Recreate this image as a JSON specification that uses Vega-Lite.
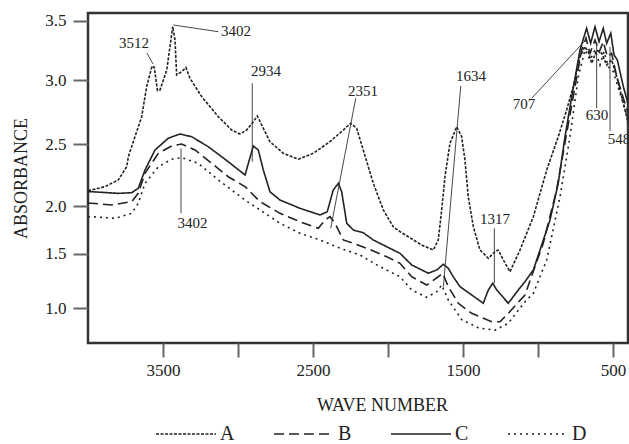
{
  "$schema": "https://vega.github.io/schema/vega-lite/v6.json",
  "width": 540,
  "height": 330,
  "autosize": {"type": "none"},
  "padding": {"left": 88, "top": 13, "right": 1, "bottom": 101},
  "background": "white",
  "datasets": {
    "curves": [
      {"s": "A", "wn": 4000, "a": 2.125}, {"s": "A", "wn": 3975, "a": 2.129}, {"s": "A", "wn": 3887, "a": 2.156}, {"s": "A", "wn": 3798, "a": 2.21}, {"s": "A", "wn": 3742, "a": 2.317}, {"s": "A", "wn": 3731, "a": 2.398}, {"s": "A", "wn": 3687, "a": 2.557}, {"s": "A", "wn": 3642, "a": 2.713}, {"s": "A", "wn": 3609, "a": 2.948}, {"s": "A", "wn": 3573, "a": 3.118}, {"s": "A", "wn": 3558, "a": 3.107}, {"s": "A", "wn": 3537, "a": 2.918}, {"s": "A", "wn": 3520, "a": 2.922}, {"s": "A", "wn": 3475, "a": 3.084}, {"s": "A", "wn": 3435, "a": 3.451}, {"s": "A", "wn": 3420, "a": 3.337}, {"s": "A", "wn": 3409, "a": 3.042}, {"s": "A", "wn": 3375, "a": 3.07}, {"s": "A", "wn": 3347, "a": 3.105}, {"s": "A", "wn": 3320, "a": 3.014}, {"s": "A", "wn": 3242, "a": 2.87}, {"s": "A", "wn": 3131, "a": 2.713}, {"s": "A", "wn": 3042, "a": 2.609}, {"s": "A", "wn": 2987, "a": 2.578}, {"s": "A", "wn": 2942, "a": 2.609}, {"s": "A", "wn": 2898, "a": 2.674}, {"s": "A", "wn": 2871, "a": 2.719}, {"s": "A", "wn": 2842, "a": 2.648}, {"s": "A", "wn": 2787, "a": 2.518}, {"s": "A", "wn": 2698, "a": 2.425}, {"s": "A", "wn": 2598, "a": 2.377}, {"s": "A", "wn": 2498, "a": 2.425}, {"s": "A", "wn": 2387, "a": 2.518}, {"s": "A", "wn": 2298, "a": 2.609}, {"s": "A", "wn": 2249, "a": 2.662}, {"s": "A", "wn": 2209, "a": 2.623}, {"s": "A", "wn": 2165, "a": 2.452}, {"s": "A", "wn": 2098, "a": 2.183}, {"s": "A", "wn": 2031, "a": 1.958}, {"s": "A", "wn": 1965, "a": 1.783}, {"s": "A", "wn": 1920, "a": 1.731}, {"s": "A", "wn": 1865, "a": 1.678}, {"s": "A", "wn": 1776, "a": 1.591}, {"s": "A", "wn": 1698, "a": 1.539}, {"s": "A", "wn": 1665, "a": 1.644}, {"s": "A", "wn": 1642, "a": 1.958}, {"s": "A", "wn": 1620, "a": 2.236}, {"s": "A", "wn": 1587, "a": 2.505}, {"s": "A", "wn": 1542, "a": 2.635}, {"s": "A", "wn": 1509, "a": 2.557}, {"s": "A", "wn": 1487, "a": 2.371}, {"s": "A", "wn": 1465, "a": 2.075}, {"s": "A", "wn": 1431, "a": 1.783}, {"s": "A", "wn": 1387, "a": 1.539}, {"s": "A", "wn": 1331, "a": 1.458}, {"s": "A", "wn": 1287, "a": 1.521}, {"s": "A", "wn": 1265, "a": 1.539}, {"s": "A", "wn": 1231, "a": 1.442}, {"s": "A", "wn": 1187, "a": 1.335}, {"s": "A", "wn": 1120, "a": 1.539}, {"s": "A", "wn": 1031, "a": 1.888}, {"s": "A", "wn": 942, "a": 2.29}, {"s": "A", "wn": 865, "a": 2.557}, {"s": "A", "wn": 809, "a": 2.766}, {"s": "A", "wn": 765, "a": 2.948}, {"s": "A", "wn": 720, "a": 3.196}, {"s": "A", "wn": 687, "a": 3.281}, {"s": "A", "wn": 665, "a": 3.239}, {"s": "A", "wn": 642, "a": 3.141}, {"s": "A", "wn": 609, "a": 3.253}, {"s": "A", "wn": 575, "a": 3.225}, {"s": "A", "wn": 542, "a": 3.126}, {"s": "A", "wn": 509, "a": 3.169}, {"s": "A", "wn": 475, "a": 3.028}, {"s": "A", "wn": 442, "a": 2.87}, {"s": "A", "wn": 398, "a": 2.662},

      {"s": "B", "wn": 4000, "a": 2.022}, {"s": "B", "wn": 3975, "a": 2.022}, {"s": "B", "wn": 3842, "a": 2.008}, {"s": "B", "wn": 3709, "a": 2.035}, {"s": "B", "wn": 3665, "a": 2.102}, {"s": "B", "wn": 3620, "a": 2.264}, {"s": "B", "wn": 3531, "a": 2.425}, {"s": "B", "wn": 3442, "a": 2.484}, {"s": "B", "wn": 3375, "a": 2.5}, {"s": "B", "wn": 3287, "a": 2.452}, {"s": "B", "wn": 3175, "a": 2.344}, {"s": "B", "wn": 3065, "a": 2.236}, {"s": "B", "wn": 2953, "a": 2.156}, {"s": "B", "wn": 2853, "a": 2.035}, {"s": "B", "wn": 2720, "a": 1.923}, {"s": "B", "wn": 2587, "a": 1.835}, {"s": "B", "wn": 2465, "a": 1.766}, {"s": "B", "wn": 2420, "a": 1.853}, {"s": "B", "wn": 2387, "a": 1.888}, {"s": "B", "wn": 2353, "a": 1.819}, {"s": "B", "wn": 2298, "a": 1.644}, {"s": "B", "wn": 2231, "a": 1.609}, {"s": "B", "wn": 2142, "a": 1.557}, {"s": "B", "wn": 2009, "a": 1.473}, {"s": "B", "wn": 1920, "a": 1.412}, {"s": "B", "wn": 1842, "a": 1.289}, {"s": "B", "wn": 1742, "a": 1.213}, {"s": "B", "wn": 1665, "a": 1.289}, {"s": "B", "wn": 1635, "a": 1.321}, {"s": "B", "wn": 1598, "a": 1.198}, {"s": "B", "wn": 1531, "a": 1.046}, {"s": "B", "wn": 1442, "a": 0.954}, {"s": "B", "wn": 1309, "a": 0.877}, {"s": "B", "wn": 1253, "a": 0.877}, {"s": "B", "wn": 1198, "a": 0.954}, {"s": "B", "wn": 1087, "a": 1.122}, {"s": "B", "wn": 965, "a": 1.609}, {"s": "B", "wn": 876, "a": 2.129}, {"s": "B", "wn": 809, "a": 2.584}, {"s": "B", "wn": 753, "a": 2.948}, {"s": "B", "wn": 709, "a": 3.253}, {"s": "B", "wn": 680, "a": 3.352}, {"s": "B", "wn": 653, "a": 3.225}, {"s": "B", "wn": 620, "a": 3.337}, {"s": "B", "wn": 591, "a": 3.239}, {"s": "B", "wn": 565, "a": 3.323}, {"s": "B", "wn": 538, "a": 3.196}, {"s": "B", "wn": 509, "a": 3.225}, {"s": "B", "wn": 475, "a": 3.028}, {"s": "B", "wn": 431, "a": 2.857}, {"s": "B", "wn": 398, "a": 2.74},

      {"s": "C", "wn": 4000, "a": 2.115}, {"s": "C", "wn": 3975, "a": 2.115}, {"s": "C", "wn": 3798, "a": 2.102}, {"s": "C", "wn": 3709, "a": 2.107}, {"s": "C", "wn": 3665, "a": 2.143}, {"s": "C", "wn": 3620, "a": 2.29}, {"s": "C", "wn": 3553, "a": 2.452}, {"s": "C", "wn": 3465, "a": 2.545}, {"s": "C", "wn": 3387, "a": 2.578}, {"s": "C", "wn": 3309, "a": 2.557}, {"s": "C", "wn": 3198, "a": 2.478}, {"s": "C", "wn": 3065, "a": 2.357}, {"s": "C", "wn": 2953, "a": 2.25}, {"s": "C", "wn": 2931, "a": 2.344}, {"s": "C", "wn": 2898, "a": 2.484}, {"s": "C", "wn": 2865, "a": 2.452}, {"s": "C", "wn": 2831, "a": 2.29}, {"s": "C", "wn": 2787, "a": 2.115}, {"s": "C", "wn": 2720, "a": 2.048}, {"s": "C", "wn": 2587, "a": 1.976}, {"s": "C", "wn": 2453, "a": 1.906}, {"s": "C", "wn": 2405, "a": 1.94}, {"s": "C", "wn": 2365, "a": 2.129}, {"s": "C", "wn": 2331, "a": 2.183}, {"s": "C", "wn": 2309, "a": 2.115}, {"s": "C", "wn": 2275, "a": 1.819}, {"s": "C", "wn": 2231, "a": 1.748}, {"s": "C", "wn": 2165, "a": 1.72}, {"s": "C", "wn": 2098, "a": 1.644}, {"s": "C", "wn": 2009, "a": 1.573}, {"s": "C", "wn": 1920, "a": 1.504}, {"s": "C", "wn": 1842, "a": 1.397}, {"s": "C", "wn": 1731, "a": 1.321}, {"s": "C", "wn": 1675, "a": 1.351}, {"s": "C", "wn": 1631, "a": 1.403}, {"s": "C", "wn": 1598, "a": 1.366}, {"s": "C", "wn": 1565, "a": 1.289}, {"s": "C", "wn": 1520, "a": 1.198}, {"s": "C", "wn": 1442, "a": 1.122}, {"s": "C", "wn": 1365, "a": 1.046}, {"s": "C", "wn": 1331, "a": 1.168}, {"s": "C", "wn": 1302, "a": 1.229}, {"s": "C", "wn": 1275, "a": 1.168}, {"s": "C", "wn": 1198, "a": 1.046}, {"s": "C", "wn": 1131, "a": 1.168}, {"s": "C", "wn": 1087, "a": 1.244}, {"s": "C", "wn": 1031, "a": 1.351}, {"s": "C", "wn": 920, "a": 1.853}, {"s": "C", "wn": 865, "a": 2.183}, {"s": "C", "wn": 820, "a": 2.557}, {"s": "C", "wn": 775, "a": 2.87}, {"s": "C", "wn": 720, "a": 3.253}, {"s": "C", "wn": 676, "a": 3.436}, {"s": "C", "wn": 649, "a": 3.309}, {"s": "C", "wn": 620, "a": 3.449}, {"s": "C", "wn": 593, "a": 3.323}, {"s": "C", "wn": 565, "a": 3.436}, {"s": "C", "wn": 542, "a": 3.309}, {"s": "C", "wn": 515, "a": 3.394}, {"s": "C", "wn": 493, "a": 3.211}, {"s": "C", "wn": 471, "a": 3.169}, {"s": "C", "wn": 431, "a": 2.948}, {"s": "C", "wn": 398, "a": 2.807},

      {"s": "D", "wn": 4000, "a": 1.888}, {"s": "D", "wn": 3975, "a": 1.888}, {"s": "D", "wn": 3820, "a": 1.871}, {"s": "D", "wn": 3709, "a": 1.923}, {"s": "D", "wn": 3665, "a": 2.022}, {"s": "D", "wn": 3620, "a": 2.183}, {"s": "D", "wn": 3531, "a": 2.317}, {"s": "D", "wn": 3442, "a": 2.377}, {"s": "D", "wn": 3375, "a": 2.39}, {"s": "D", "wn": 3265, "a": 2.344}, {"s": "D", "wn": 3131, "a": 2.21}, {"s": "D", "wn": 2953, "a": 2.048}, {"s": "D", "wn": 2853, "a": 1.958}, {"s": "D", "wn": 2720, "a": 1.819}, {"s": "D", "wn": 2587, "a": 1.714}, {"s": "D", "wn": 2453, "a": 1.644}, {"s": "D", "wn": 2320, "a": 1.557}, {"s": "D", "wn": 2187, "a": 1.488}, {"s": "D", "wn": 2053, "a": 1.381}, {"s": "D", "wn": 1920, "a": 1.289}, {"s": "D", "wn": 1842, "a": 1.168}, {"s": "D", "wn": 1742, "a": 1.101}, {"s": "D", "wn": 1675, "a": 1.152}, {"s": "D", "wn": 1642, "a": 1.213}, {"s": "D", "wn": 1598, "a": 1.076}, {"s": "D", "wn": 1509, "a": 0.897}, {"s": "D", "wn": 1398, "a": 0.821}, {"s": "D", "wn": 1287, "a": 0.799}, {"s": "D", "wn": 1198, "a": 0.863}, {"s": "D", "wn": 1087, "a": 1.06}, {"s": "D", "wn": 1031, "a": 1.137}, {"s": "D", "wn": 942, "a": 1.442}, {"s": "D", "wn": 853, "a": 2.075}, {"s": "D", "wn": 787, "a": 2.557}, {"s": "D", "wn": 731, "a": 3.028}, {"s": "D", "wn": 687, "a": 3.253}, {"s": "D", "wn": 653, "a": 3.169}, {"s": "D", "wn": 620, "a": 3.253}, {"s": "D", "wn": 587, "a": 3.126}, {"s": "D", "wn": 560, "a": 3.239}, {"s": "D", "wn": 531, "a": 3.112}, {"s": "D", "wn": 498, "a": 3.07}, {"s": "D", "wn": 453, "a": 2.896}, {"s": "D", "wn": 398, "a": 2.688}
    ],
    "notes": [
      {"label": "3512", "tx": 3693, "ty": 3.312, "x1": 3607, "y1": 3.228, "x2": 3567, "y2": 3.135},
      {"label": "3402", "tx": 3013, "ty": 3.413, "x1": 3431, "y1": 3.464, "x2": 3131, "y2": 3.407},
      {"label": "2934", "tx": 2813, "ty": 3.076, "x1": 2905, "y1": 2.974, "x2": 2905, "y2": 2.357},
      {"label": "2351", "tx": 2167, "ty": 2.914, "x1": 2215, "y1": 2.857, "x2": 2382, "y2": 1.766},
      {"label": "1634", "tx": 1447, "ty": 3.034, "x1": 1515, "y1": 2.953, "x2": 1631, "y2": 1.198},
      {"label": "1317", "tx": 1287, "ty": 1.864, "x1": 1291, "y1": 1.766, "x2": 1291, "y2": 1.229},
      {"label": "707", "tx": 1093, "ty": 2.813, "x1": 1042, "y1": 2.857, "x2": 693, "y2": 3.323},
      {"label": "630", "tx": 607, "ty": 2.727, "x1": 609, "y1": 3.323, "x2": 609, "y2": 2.779},
      {"label": "548", "tx": 460, "ty": 2.54, "x1": 520, "y1": 3.278, "x2": 520, "y2": 2.6},
      {"label": "3402", "tx": 3303, "ty": 1.827, "x1": 3380, "y1": 2.465, "x2": 3380, "y2": 1.923}
    ]
  },
  "layer": [
    {
      "data": {"name": "curves"},
      "mark": {"type": "line", "clip": true, "strokeWidth": 1.6, "color": "#222"},
      "encoding": {
        "x": {"field": "wn", "type": "quantitative",
              "scale": {"domain": [400, 4000], "reverse": true, "nice": false, "zero": false},
              "axis": {"title": "WAVE NUMBER", "values": [3500, 3000, 2500, 2000, 1500, 1000, 500],
                       "labelExpr": "datum.value % 1000 == 500 ? datum.label : ''",
                       "format": "d", "labelOverlap": false, "domain": false, "grid": false, "ticks": true,
                       "tickSize": 14, "tickWidth": 2, "tickColor": "#666",
                       "labelFont": "Liberation Serif", "labelFontSize": 17, "labelColor": "#222", "labelPadding": 5,
                       "titleFont": "Liberation Serif", "titleFontSize": 18, "titleFontWeight": "normal", "titleColor": "#222",
                       "titleX": 294, "titleY": 67, "titleBaseline": "alphabetic", "titleAlign": "center"}},
        "y": {"field": "a", "type": "quantitative",
              "scale": {"domain": [0.682, 1, 1.5, 2, 2.5, 3, 3.5, 3.565], "range": [330, 295.3, 240.7, 193, 131, 67, 7.7, 0], "nice": false, "zero": false},
              "axis": {"title": "ABSORBANCE", "values": [1, 1.5, 2, 2.5, 3, 3.5],
                       "format": ".1f", "labelOverlap": false, "domain": false, "grid": false, "ticks": true,
                       "tickSize": 15, "tickWidth": 2, "tickColor": "#666", "tickOpacity": 1,
                       "labelFont": "Liberation Serif", "labelFontSize": 17, "labelColor": "#222", "labelPadding": 7,
                       "titleFont": "Liberation Serif", "titleFontSize": 18, "titleFontWeight": "normal", "titleColor": "#222",
                       "titlePadding": 14}},
        "strokeDash": {"field": "s", "type": "nominal",
              "scale": {"domain": ["A", "B", "C", "D"], "range": [[3, 1.5], [10, 5], [1, 0], [2, 4]]},
              "legend": {"orient": "none", "legendX": 67, "legendY": 390, "direction": "horizontal", "title": null,
                         "symbolType": "stroke", "symbolSize": 3600, "symbolStrokeWidth": 1.5, "symbolStrokeColor": "#222",
                         "labelFont": "Liberation Serif", "labelFontSize": 20, "labelColor": "#222", "labelOffset": 3, "columnPadding": 36}}
      }
    },
    {
      "data": {"name": "notes"},
      "mark": {"type": "rule", "strokeWidth": 0.9, "color": "#333"},
      "encoding": {
        "x": {"field": "x1", "type": "quantitative", "title": "WAVE NUMBER",
              "scale": {"domain": [400, 4000], "reverse": true, "nice": false, "zero": false}},
        "y": {"field": "y1", "type": "quantitative", "title": "ABSORBANCE",
              "scale": {"domain": [0.682, 1, 1.5, 2, 2.5, 3, 3.5, 3.565], "range": [330, 295.3, 240.7, 193, 131, 67, 7.7, 0], "nice": false, "zero": false}},
        "x2": {"field": "x2"},
        "y2": {"field": "y2"}
      }
    },
    {
      "data": {"name": "notes"},
      "mark": {"type": "text", "font": "Liberation Serif", "fontSize": 15, "color": "#222", "align": "center", "baseline": "middle"},
      "encoding": {
        "x": {"field": "tx", "type": "quantitative", "title": "WAVE NUMBER",
              "scale": {"domain": [400, 4000], "reverse": true, "nice": false, "zero": false}},
        "y": {"field": "ty", "type": "quantitative", "title": "ABSORBANCE",
              "scale": {"domain": [0.682, 1, 1.5, 2, 2.5, 3, 3.5, 3.565], "range": [330, 295.3, 240.7, 193, 131, 67, 7.7, 0], "nice": false, "zero": false}},
        "text": {"field": "label", "type": "nominal"}
      }
    }
  ],
  "config": {
    "view": {"stroke": "#333", "strokeWidth": 2.5}
  }
}
